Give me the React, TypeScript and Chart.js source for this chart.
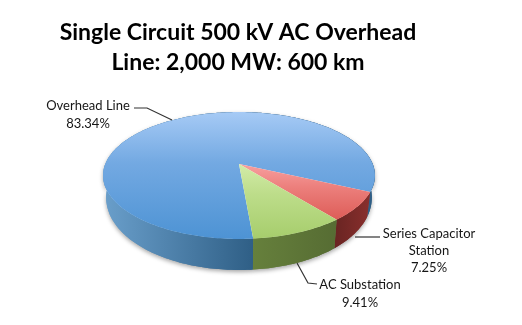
import React, { useEffect, useRef } from "react";
import { Chart, PieController, ArcElement, Title } from "chart.js";

Chart.register(PieController, ArcElement, Title);

const categories = ["Overhead Line", "Series Capacitor Station", "AC Substation"];
const labelLines = [["Overhead Line"], ["Series Capacitor", "Station"], ["AC Substation"]];
const shares = [83.34, 7.25, 9.41];
const titleLines = ["Single Circuit 500 kV AC Overhead", "Line: 2,000 MW: 600 km"];

const topColours = [["#a6caf5", "#73a9e2", "#4d93d4"], ["#f7a09f", "#ec7f7c", "#dc5a55"], ["#d2eca8", "#bddd8a", "#a6cd6c"]];
const wallColours = [["#6a9fcb", "#2f5f86"], ["#6b2523", "#872e2c"], ["#66803c", "#566c33"]];
const wallStops = [[103, 253], [337, 368], [253, 337]];
const gradRanges = [[112, 239], [164, 222], [164, 239]];

const FONT = "Lato";
const CX = 239, APEX_Y = 164, A = 133.7, B = 31.7, K = -0.181;

const proj = (t: number) => {
  const x = Math.cos(t), y = Math.sin(t), w = 1 + K * y;
  return [CX + (A * x) / w, (APEX_Y + B * y) / w, y];
};
const projLow = (t: number) => {
  const [px, py, y] = proj(t);
  return [CX + (px - CX) * 0.977, py + 20 + 11 * Math.max(y, 0)];
};

const pie3d = {
  id: "pie3d",
  beforeDatasetsDraw(chart: any) {
    const { ctx } = chart;
    const arcs = chart.getDatasetMeta(0).data;
    const STEP = 0.02;
    const wall = (i: number) => {
      const { startAngle: s, endAngle: e } = arcs[i];
      const g = ctx.createLinearGradient(wallStops[i][0], 0, wallStops[i][1], 0);
      g.addColorStop(0, wallColours[i][0]);
      g.addColorStop(1, wallColours[i][1]);
      ctx.beginPath();
      for (let t = s; t <= e; t += STEP) { const p = proj(t); ctx.lineTo(p[0], p[1]); }
      const pe = proj(e); ctx.lineTo(pe[0], pe[1]);
      for (let t = e; t >= s; t -= STEP) { const p = projLow(t); ctx.lineTo(p[0], p[1]); }
      const pl = projLow(s); ctx.lineTo(pl[0], pl[1]);
      ctx.closePath();
      ctx.fillStyle = g;
      ctx.fill();
    };
    ctx.save();
    ctx.shadowColor = "rgba(0,0,0,0.35)";
    ctx.shadowBlur = 4;
    ctx.shadowOffsetY = 2;
    arcs.forEach((_: any, i: number) => wall(i));
    ctx.shadowColor = "transparent";
    arcs.forEach((_: any, i: number) => wall(i));
    arcs.forEach((arc: any, i: number) => {
      const g = ctx.createLinearGradient(0, gradRanges[i][0], 0, gradRanges[i][1]);
      g.addColorStop(0, topColours[i][0]);
      g.addColorStop(0.4, topColours[i][1]);
      g.addColorStop(1, topColours[i][2]);
      ctx.beginPath();
      ctx.moveTo(CX, APEX_Y);
      for (let t = arc.startAngle; t <= arc.endAngle; t += STEP) { const p = proj(t); ctx.lineTo(p[0], p[1]); }
      const pe = proj(arc.endAngle); ctx.lineTo(pe[0], pe[1]);
      ctx.closePath();
      ctx.fillStyle = g;
      ctx.fill();
    });
    ctx.restore();
    return false;
  },
  afterDraw(chart: any) {
    const { ctx } = chart;
    ctx.save();
    ctx.strokeStyle = "#333";
    ctx.lineWidth = 1.2;
    const poly = (pts: number[][]) => {
      ctx.beginPath();
      pts.forEach((p, i) => (i ? ctx.lineTo(p[0], p[1]) : ctx.moveTo(p[0], p[1])));
      ctx.stroke();
    };
    poly([[172, 120], [147, 108], [134, 108]]);
    poly([[355, 237], [380, 237]]);
    poly([[297, 263], [308, 283], [317, 284]]);
    ctx.fillStyle = "#161616";
    ctx.font = `13px ${FONT}`;
    ctx.textAlign = "center";
    ctx.textBaseline = "middle";
    const anchors = [[88, 106], [429, 234], [360, 285]];
    const leading = [18, 17, 18];
    categories.forEach((_, i) => {
      const lines = [...labelLines[i], `${shares[i].toFixed(2)}%`];
      lines.forEach((l, j) => ctx.fillText(l, anchors[i][0], anchors[i][1] + j * leading[i]));
    });
    ctx.restore();
  },
};

export default function App() {
  const ref = useRef<HTMLCanvasElement>(null);
  useEffect(() => {
    document.body.style.margin = "0";
    document.body.style.background = "#fff";
    const chart = new Chart(ref.current!, {
      type: "pie",
      data: { labels: categories, datasets: [{ data: shares, backgroundColor: topColours.map((c) => c[2]) }] },
      options: {
        responsive: false,
        animation: false,
        rotation: 175,
        layout: { padding: { right: 46, top: 0 } },
        plugins: {
          legend: { display: false },
          tooltip: { enabled: false },
          title: {
            display: true,
            text: titleLines,
            color: "#000",
            font: { family: FONT, size: 23, weight: "bold", lineHeight: 1.3 },
            padding: { top: 18, bottom: 4 },
          },
        },
      } as any,
      plugins: [pie3d],
    });
    return () => chart.destroy();
  }, []);
  return <canvas ref={ref} width={522} height={325} style={{ display: "block", filter: "blur(0.35px)" }} />;
}
